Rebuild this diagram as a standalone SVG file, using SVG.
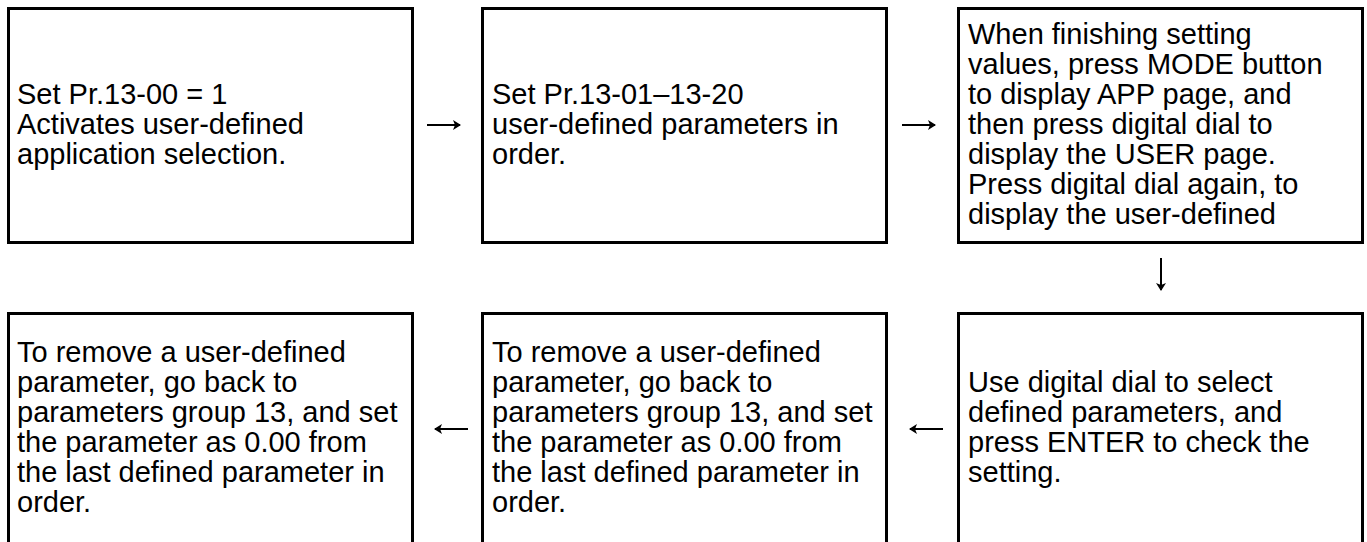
<svg xmlns="http://www.w3.org/2000/svg" width="1367" height="542" viewBox="0 0 1367 542">
<style>
.box{fill:#fff;stroke:#000;stroke-width:3}
.t{font-family:"Liberation Sans",Arial,sans-serif;font-size:29px;fill:#000}
.c{stroke:#000;stroke-width:2;fill:none;marker-end:url(#ah)}
</style>
<defs>
<marker id="ah" viewBox="0 0 8 10" refX="7" refY="5" markerWidth="8" markerHeight="10" markerUnits="userSpaceOnUse" orient="auto">
<path d="M0,0 L8,5 L0,10 L2,5 z" fill="#000"/>
</marker>
</defs>
<rect width="1367" height="542" fill="#fff"/>
<g id="n1">
<rect class="box" x="8.5" y="8.5" width="404" height="234"/>
<text class="t" x="17" y="104">Set Pr.13-00 = 1</text>
<text class="t" x="17" y="134">Activates user-defined</text>
<text class="t" x="17" y="164">application selection.</text>
</g>
<g id="n2">
<rect class="box" x="482.5" y="8.5" width="404" height="234"/>
<text class="t" x="492" y="104">Set Pr.13-01–13-20</text>
<text class="t" x="492" y="134">user-defined parameters in</text>
<text class="t" x="492" y="164">order.</text>
</g>
<g id="n3">
<rect class="box" x="958.5" y="8.5" width="404" height="234"/>
<text class="t" x="968" y="44">When finishing setting</text>
<text class="t" x="968" y="74">values, press MODE button</text>
<text class="t" x="968" y="104">to display APP page, and</text>
<text class="t" x="968" y="134">then press digital dial to</text>
<text class="t" x="968" y="164">display the USER page.</text>
<text class="t" x="968" y="194">Press digital dial again, to</text>
<text class="t" x="968" y="224">display the user-defined</text>
</g>
<g id="n4">
<rect class="box" x="8.5" y="313.5" width="404" height="234"/>
<text class="t" x="17" y="362">To remove a user-defined</text>
<text class="t" x="17" y="392">parameter, go back to</text>
<text class="t" x="17" y="422">parameters group 13, and set</text>
<text class="t" x="17" y="452">the parameter as 0.00 from</text>
<text class="t" x="17" y="482">the last defined parameter in</text>
<text class="t" x="17" y="512">order.</text>
</g>
<g id="n5">
<rect class="box" x="482.5" y="313.5" width="404" height="234"/>
<text class="t" x="492" y="362">To remove a user-defined</text>
<text class="t" x="492" y="392">parameter, go back to</text>
<text class="t" x="492" y="422">parameters group 13, and set</text>
<text class="t" x="492" y="452">the parameter as 0.00 from</text>
<text class="t" x="492" y="482">the last defined parameter in</text>
<text class="t" x="492" y="512">order.</text>
</g>
<g id="n6">
<rect class="box" x="958.5" y="313.5" width="404" height="234"/>
<text class="t" x="968" y="392">Use digital dial to select</text>
<text class="t" x="968" y="422">defined parameters, and</text>
<text class="t" x="968" y="452">press ENTER to check the</text>
<text class="t" x="968" y="482">setting.</text>
</g>
<g id="connectors">
<line class="c" x1="427" y1="125" x2="460" y2="125"/>
<line class="c" x1="902" y1="125" x2="935" y2="125"/>
<line class="c" x1="1161" y1="258" x2="1161" y2="290"/>
<line class="c" x1="943" y1="429" x2="910" y2="429"/>
<line class="c" x1="468" y1="429" x2="435" y2="429"/>
</g>
</svg>
